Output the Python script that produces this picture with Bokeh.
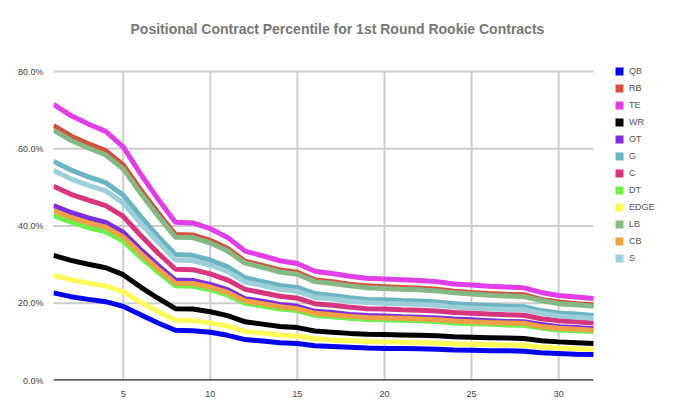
from bokeh.plotting import figure
from bokeh.models import (FixedTicker, PrintfTickFormatter, Legend, LegendItem,
                          Label, Range1d)
from bokeh.embed import file_html
from bokeh.resources import INLINE

picks = list(range(1, 33))

QB = [22.7, 21.7, 21.0, 20.4, 19.2, 17.0, 14.9, 13.0, 12.9, 12.5, 11.7, 10.6, 10.2, 9.8, 9.6, 9.0,
      8.8, 8.6, 8.4, 8.3, 8.3, 8.2, 8.1, 7.9, 7.8, 7.7, 7.7, 7.6, 7.2, 7.0, 6.8, 6.7]
RB = [66.0, 63.3, 61.3, 59.5, 55.8, 49.4, 43.4, 37.8, 37.7, 36.3, 34.2, 30.9, 29.8, 28.6, 28.0, 26.1,
      25.6, 24.9, 24.5, 24.3, 24.1, 23.9, 23.6, 23.1, 22.8, 22.5, 22.3, 22.2, 21.0, 20.3, 19.9, 19.6]
TE = [71.5, 68.6, 66.4, 64.5, 60.5, 53.5, 47.0, 41.0, 40.8, 39.3, 37.0, 33.5, 32.3, 31.0, 30.3, 28.3,
      27.7, 27.0, 26.5, 26.3, 26.1, 25.9, 25.6, 25.0, 24.7, 24.4, 24.2, 24.0, 22.8, 22.0, 21.6, 21.2]
WR = [32.4, 31.1, 30.1, 29.2, 27.4, 24.2, 21.3, 18.6, 18.5, 17.8, 16.8, 15.2, 14.6, 14.0, 13.7, 12.8,
      12.5, 12.2, 12.0, 11.9, 11.8, 11.7, 11.6, 11.3, 11.2, 11.1, 11.0, 10.9, 10.3, 10.0, 9.8, 9.6]
OT = [45.3, 43.5, 42.1, 40.9, 38.4, 33.9, 29.8, 26.0, 25.9, 24.9, 23.5, 21.2, 20.5, 19.7, 19.2, 17.9,
      17.6, 17.1, 16.8, 16.7, 16.5, 16.4, 16.2, 15.9, 15.7, 15.5, 15.3, 15.2, 14.5, 13.9, 13.7, 13.4]
G = [56.8, 54.5, 52.7, 51.2, 48.0, 42.5, 37.3, 32.6, 32.4, 31.2, 29.4, 26.6, 25.6, 24.6, 24.1, 22.5,
     22.0, 21.4, 21.0, 20.9, 20.7, 20.6, 20.3, 19.9, 19.6, 19.4, 19.2, 19.1, 18.1, 17.5, 17.2, 16.8]
C = [50.3, 48.2, 46.7, 45.3, 42.5, 37.6, 33.0, 28.8, 28.7, 27.6, 26.0, 23.6, 22.7, 21.8, 21.3, 19.9,
     19.5, 19.0, 18.6, 18.5, 18.3, 18.2, 18.0, 17.6, 17.4, 17.2, 17.0, 16.9, 16.0, 15.5, 15.2, 14.9]
DT = [42.7, 41.0, 39.6, 38.5, 36.1, 31.9, 28.1, 24.5, 24.4, 23.5, 22.1, 20.0, 19.3, 18.5, 18.1, 16.9,
      16.5, 16.1, 15.8, 15.7, 15.6, 15.5, 15.3, 14.9, 14.7, 14.6, 14.4, 14.3, 13.6, 13.1, 12.9, 12.7]
EDGE = [27.2, 26.1, 25.2, 24.5, 23.0, 20.3, 17.9, 15.6, 15.5, 14.9, 14.1, 12.7, 12.3, 11.8, 11.5, 10.8,
        10.5, 10.3, 10.1, 10.0, 9.9, 9.8, 9.7, 9.5, 9.4, 9.3, 9.2, 9.1, 8.7, 8.4, 8.2, 8.1]
LB = [64.8, 62.2, 60.2, 58.4, 54.8, 48.5, 42.6, 37.1, 37.0, 35.6, 33.5, 30.4, 29.3, 28.1, 27.5, 25.6,
      25.1, 24.5, 24.0, 23.8, 23.6, 23.5, 23.2, 22.7, 22.4, 22.1, 21.9, 21.7, 20.7, 19.9, 19.6, 19.2]
CB = [44.0, 42.2, 40.8, 39.7, 37.2, 32.9, 28.9, 25.2, 25.1, 24.2, 22.8, 20.6, 19.9, 19.1, 18.6, 17.4,
      17.0, 16.6, 16.3, 16.2, 16.1, 15.9, 15.7, 15.4, 15.2, 15.0, 14.9, 14.8, 14.0, 13.5, 13.3, 13.0]
S = [54.4, 52.2, 50.5, 49.1, 46.0, 40.7, 35.8, 31.2, 31.0, 29.9, 28.2, 25.5, 24.6, 23.6, 23.1, 21.5,
     21.1, 20.5, 20.2, 20.0, 19.9, 19.7, 19.5, 19.0, 18.8, 18.6, 18.4, 18.3, 17.4, 16.7, 16.4, 16.1]

positions = ["QB", "RB", "TE", "WR", "OT", "G", "C", "DT", "EDGE", "LB", "CB", "S"]
series = [QB, RB, TE, WR, OT, G, C, DT, EDGE, LB, CB, S]
colors = ["#0505f0", "#d4503e", "#e23ee8", "#000000", "#7f2be0", "#6bb5c2",
          "#d8357f", "#6cf04e", "#fbfb5a", "#86b886", "#f0a046", "#9ccfd9"]

x_ticks = [5, 10, 15, 20, 25, 30]
y_ticks = [0, 20, 40, 60, 80]
title_text = "Positional Contract Percentile for 1st Round Rookie Contracts"

# plot area of the data: x 1..32, y 0..80 ; the frame is enlarged so that the
# title and legend (drawn inside the frame) are not clipped.
x_lo, x_hi = picks[0], picks[-1]
y_lo, y_hi = y_ticks[0], y_ticks[-1]
data_w, data_h = 540, 309          # pixels for the data area
frame_w, frame_h = 619, 370        # full frame
x_end = x_lo + frame_w * (x_hi - x_lo) / data_w
y_end = y_lo + frame_h * (y_hi - y_lo) / data_h

p = figure(width=680, height=419, output_backend="svg", toolbar_location=None,
           x_range=Range1d(x_lo, x_end), y_range=Range1d(y_lo, y_end),
           min_border_left=53, min_border_right=680 - 53 - frame_w,
           min_border_top=380 - frame_h, min_border_bottom=39)
p.outline_line_color = None
p.background_fill_color = "white"
p.border_fill_color = "white"
p.xgrid.visible = False
p.ygrid.visible = False

# grid lines limited to the data area
p.segment(x0=x_ticks, x1=x_ticks, y0=[y_lo] * len(x_ticks), y1=[y_hi] * len(x_ticks),
          line_color="#cccccc", line_width=2)
p.segment(x0=[x_lo] * len(y_ticks), x1=[x_hi] * len(y_ticks), y0=y_ticks, y1=y_ticks,
          line_color="#cccccc", line_width=2)

for vals, col in zip(series, colors):
    p.line(picks, vals, line_color=col, line_width=5, line_join="round", line_cap="butt")

# baseline
p.segment(x0=[x_lo], x1=[x_hi], y0=[y_lo], y1=[y_lo], line_color="#333333", line_width=2.5)

nan = float("nan")
items = []
for name, col in zip(positions, colors):
    r = p.quad(left=[nan], right=[nan], top=[nan], bottom=[nan], fill_color=col, line_color=None)
    items.append(LegendItem(label=name, renderers=[r]))

legend = Legend(items=items, location=(561, 117.5), padding=0, margin=0,
                glyph_width=10, glyph_height=10, label_height=10, spacing=7,
                label_standoff=5, label_text_font="Liberation Sans",
                label_text_font_size="9px", label_text_color="#555555",
                border_line_color=None, background_fill_alpha=0)
p.add_layout(legend, "center")

p.xaxis.ticker = FixedTicker(ticks=x_ticks)
p.yaxis.ticker = FixedTicker(ticks=y_ticks)
p.yaxis.formatter = PrintfTickFormatter(format="%.1f%%")
for ax in (p.xaxis, p.yaxis):
    ax.major_tick_line_color = None
    ax.minor_tick_line_color = None
    ax.axis_line_color = None
    ax.major_label_text_font = "Liberation Sans"
    ax.major_label_text_font_size = "9px"
    ax.major_label_text_color = "#444444"
p.yaxis.major_label_standoff = 4
p.xaxis.major_label_standoff = 4

title = Label(x=(x_lo + x_hi) / 2 + 0.8, y=y_hi + (380 - 28 - data_h) * (y_hi - y_lo) / data_h,
              text=title_text, text_align="center", text_baseline="middle",
              text_font="Liberation Sans", text_font_style="bold",
              text_font_size="14px", text_color="#777777")
p.add_layout(title)

open("out.html", "w").write(file_html(p, INLINE))
